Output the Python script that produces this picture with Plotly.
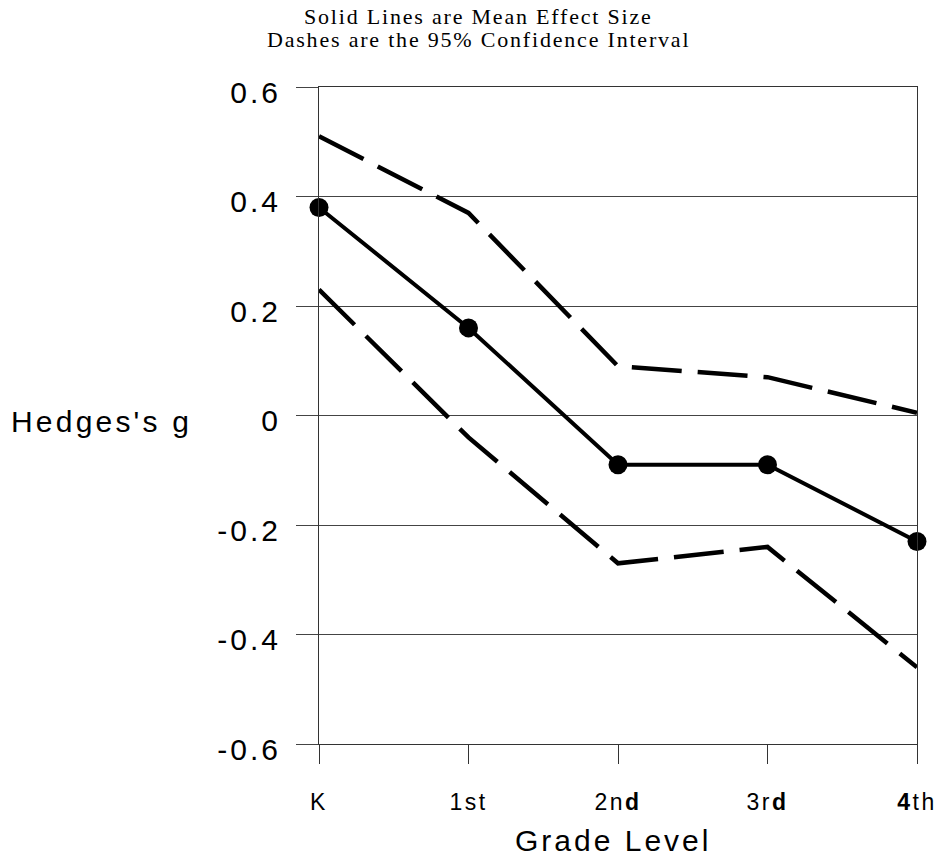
import plotly.graph_objects as go

grades = ["K", "1st", "2n<b>d</b>", "3r<b>d</b>", "<b>4</b>th"]
grade_pos = [0, 1, 2, 3, 4]
mean_g = [0.38, 0.16, -0.09, -0.09, -0.23]
upper_ci = [0.51, 0.37, 0.09, 0.07, 0.005]
lower_ci = [0.23, -0.04, -0.27, -0.24, -0.46]
y_ticks = [0.6, 0.4, 0.2, 0, -0.2, -0.4, -0.6]
y_ticklabels = ["0.6", "0.4", "0.2", "0", "-0.2", "-0.4", "-0.6"]

W, H = 936, 857
L, R, T, B = 319, 19, 87, 113


def spaced(s, ls):
    return f'<span style="letter-spacing:{ls}px">{s}</span>'


fig = go.Figure()
dash = "50px,16px"
fig.add_trace(go.Scatter(x=grade_pos, y=upper_ci, mode="lines",
                         line=dict(color="black", width=4.5, dash=dash),
                         cliponaxis=False, showlegend=False))
fig.add_trace(go.Scatter(x=grade_pos, y=lower_ci, mode="lines",
                         line=dict(color="black", width=4.5, dash=dash),
                         cliponaxis=False, showlegend=False))
fig.add_trace(go.Scatter(x=grade_pos, y=mean_g, mode="lines+markers",
                         line=dict(color="black", width=4),
                         marker=dict(color="black", size=19),
                         cliponaxis=False, showlegend=False))

sans = "Liberation Sans, Arial, sans-serif"

fig.update_layout(
    width=W, height=H,
    margin=dict(l=L, r=R, t=T, b=B, autoexpand=False),
    paper_bgcolor="white", plot_bgcolor="white",
    xaxis=dict(range=[0, 4], tickvals=grade_pos,
               ticktext=[spaced(g, 2.5) for g in grades],
               showgrid=False, zeroline=False, automargin=False,
               showline=True, linecolor="#333", linewidth=1, mirror=True,
               ticks="outside", ticklen=19, tickcolor="#333", tickwidth=1,
               ticklabelstandoff=18, ticklabeloverflow="allow",
               tickfont=dict(size=23, family=sans, color="black")),
    yaxis=dict(range=[-0.6, 0.6], tickvals=y_ticks,
               ticktext=[spaced(t, 3) for t in y_ticklabels],
               showgrid=True, gridcolor="#444", gridwidth=1,
               zeroline=False, automargin=False,
               showline=True, linecolor="#333", linewidth=1, mirror=True,
               ticks="outside", ticklen=22, tickcolor="#444", tickwidth=1,
               ticklabelstandoff=9, ticklabelshift=5,
               tickfont=dict(size=30, family=sans, color="black")),
)

plot_h = H - T - B
plot_w = W - L - R


def py(px):
    return (H - B - px) / plot_h


def px_(x):
    return (x - L) / plot_w


serif = dict(family="Liberation Serif, Times New Roman, serif", size=22, color="black")
fig.add_annotation(text=spaced("Solid Lines are Mean Effect Size", 1.8),
                   xref="paper", yref="paper",
                   x=px_(478), y=py(16), showarrow=False, font=serif,
                   xanchor="center", yanchor="middle")
fig.add_annotation(text=spaced("Dashes are the 95% Confidence Interval", 1.8),
                   xref="paper", yref="paper",
                   x=px_(478), y=py(39), showarrow=False, font=serif,
                   xanchor="center", yanchor="middle")
fig.add_annotation(text=spaced("Hedges's g", 3.2), xref="paper", yref="paper",
                   x=px_(9), y=py(421), showarrow=False,
                   font=dict(size=30, family=sans, color="black"),
                   xanchor="left", yanchor="middle")
fig.add_annotation(text=spaced("Grade Level", 3), xref="paper", yref="paper",
                   x=px_(613), y=py(840), showarrow=False,
                   font=dict(size=30, family=sans, color="black"),
                   xanchor="center", yanchor="middle")

fig.write_html("out.html", config={"displayModeBar": False},
               post_script="document.body.style.margin='0px';")
